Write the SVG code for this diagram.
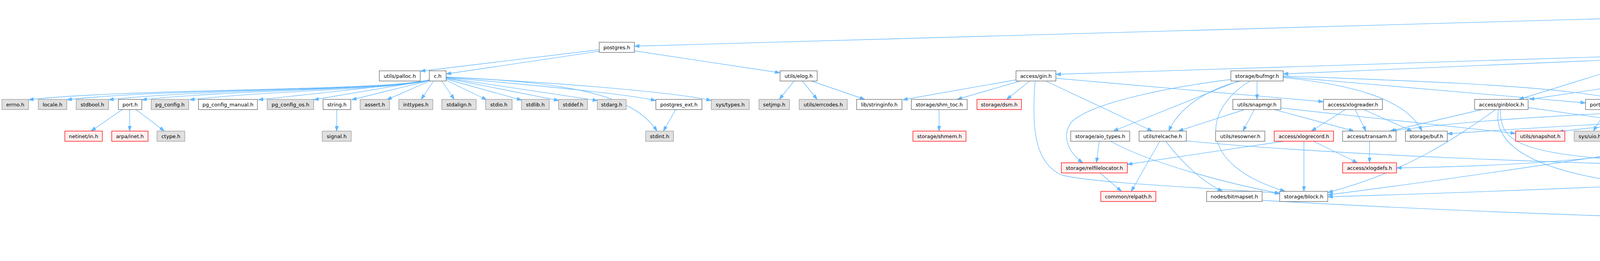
<svg xmlns="http://www.w3.org/2000/svg" width="6037" height="667" viewBox="0 0 6037 667">
<style>
.node rect{stroke-width:1.33}
.n rect{fill:#ffffff;stroke:#666666}
.s rect{fill:#e0e0e0;stroke:#999999}
.r rect{fill:#fff0f0;stroke:#ff0000}
.src rect{fill:#999999;stroke:#666666}
.node text{font-family:"DejaVu Sans","Liberation Sans",sans-serif;font-size:13px;fill:#000000;text-anchor:middle}
#edges path{fill:none;stroke:#63b8ff;stroke-width:1.33;marker-end:url(#arr)}
</style>
<defs>
<marker id="arr" viewBox="0 0 13 9" refX="13" refY="4.5" markerWidth="13" markerHeight="9" markerUnits="userSpaceOnUse" orient="auto">
<path d="M0,0 L13,4.5 L0,9 z" fill="#63b8ff" stroke="#63b8ff" stroke-width="1"/>
</marker>
</defs>
<rect width="6037" height="667" fill="#ffffff"/>
<g id="edges">
<path d="M4523,36 L1624,118"/>
<path d="M4666,60 L4775,108"/>
<path d="M4603,60 L4603,254"/>
<path d="M4523,58 L3888,254"/>
<path d="M4682,34 C5400,55 5900,110 6000,150 C6040,170 6032,210 6030,250 C6027,320 6010,380 6005,416"/>
<path d="M1534,127 L1076,182"/>
<path d="M1534,131 L1142,189"/>
<path d="M1624,130 L1997,186"/>
<path d="M1099,204 C1000,232 323,226 73,255"/>
<path d="M1099,204 C1000,232 420,226 171,255"/>
<path d="M1099,204 C1000,232 528,226 278,255"/>
<path d="M1099,205 C1000,230 613,228 363,255"/>
<path d="M1099,205 C1000,230 735,228 485,255"/>
<path d="M1099,205 C950,225 800,240 661,255"/>
<path d="M1099,205 L803,255"/>
<path d="M1099,206 L900,255"/>
<path d="M1100,207 L990,255"/>
<path d="M1110,207 L1078,254"/>
<path d="M1131,207 L1163,254"/>
<path d="M1142,205 L1246,255"/>
<path d="M1142,202 L1336,256"/>
<path d="M1142,200 L1431,257"/>
<path d="M1142,199 L1530,257"/>
<path d="M1142,198 C1400,220 1600,240 1679,257"/>
<path d="M1142,197 C1500,215 1750,240 1821,257"/>
<path d="M1142,197 C1450,210 1620,240 1682,335"/>
<path d="M313,280 L233,335"/>
<path d="M332,280 L332,335"/>
<path d="M348,280 L421,335"/>
<path d="M862,280 L862,335"/>
<path d="M1730,280 L1698,335"/>
<path d="M2033,207 L1995,254"/>
<path d="M2054,207 L2092,254"/>
<path d="M2077,207 L2214,254"/>
<path d="M4858,134 L5055,181"/>
<path d="M4886,127 L5196,184"/>
<path d="M4886,124 L5335,185"/>
<path d="M4886,121 L5503,185"/>
<path d="M4886,119 C5300,150 5700,180 5820,188 C5900,200 5960,250 5985,320 C5995,360 5999,390 5999,416"/>
<path d="M4731,125 L2703,190"/>
<path d="M4731,127 L3285,189"/>
<path d="M4731,133 L3915,254"/>
<path d="M4791,134 L4622,254"/>
<path d="M4809,134 L4809,254"/>
<path d="M2601,204 L2311,255"/>
<path d="M2612,207 L2450,254"/>
<path d="M2636,207 L2577,254"/>
<path d="M2677,207 L2950,335"/>
<path d="M2703,200 L3388,260"/>
<path d="M2650,207 C2640,330 2650,420 2720,448 C2820,470 3100,480 3276,494"/>
<path d="M2404,280 L2404,335"/>
<path d="M3151,203 C3000,222 2800,260 2745,310 C2715,345 2735,390 2772,416"/>
<path d="M3170,207 L2850,335"/>
<path d="M3176,207 C3100,225 3020,270 2992,335"/>
<path d="M3200,207 C3080,280 3060,420 3290,489"/>
<path d="M3218,207 L3218,254"/>
<path d="M3285,196 L4059,263"/>
<path d="M3285,194 C3900,218 4200,225 4377,335"/>
<path d="M3285,198 C3450,215 3600,250 3640,335"/>
<path d="M3186,280 L3016,335"/>
<path d="M3211,280 L3182,335"/>
<path d="M3262,280 L3466,335"/>
<path d="M3279,276 L3880,341"/>
<path d="M3444,280 L3357,335"/>
<path d="M3469,280 L3497,335"/>
<path d="M3491,280 L3615,335"/>
<path d="M3287,361 L2886,420"/>
<path d="M3338,361 L3338,489"/>
<path d="M3363,361 L3475,416"/>
<path d="M3506,361 L3506,416"/>
<path d="M2814,361 L2807,416"/>
<path d="M2843,361 C2950,420 3150,470 3278,495"/>
<path d="M2969,361 L2896,489"/>
<path d="M2984,361 C3030,420 3080,465 3130,489"/>
<path d="M3037,360 C3400,395 4000,418 4507,428"/>
<path d="M2816,442 L2871,489"/>
<path d="M3231,512 C3800,545 4500,568 5075,575"/>
<path d="M3794,280 L3558,335"/>
<path d="M3829,280 C3730,350 3600,440 3399,492"/>
<path d="M3841,280 C3840,350 3870,385 4100,405 C4500,412 4700,415 4842,420"/>
<path d="M3836,280 C3822,360 3900,430 4150,465 C4250,478 4300,490 4346,497"/>
<path d="M3912,275 L4339,335"/>
<path d="M4113,280 L4079,335"/>
<path d="M4128,280 L4162,335"/>
<path d="M4144,280 L4244,335"/>
<path d="M4522,272 C4200,285 3800,300 3562,335"/>
<path d="M4573,280 L4437,335"/>
<path d="M4592,280 L4546,335"/>
<path d="M4601,280 L4577,416"/>
<path d="M4619,280 L4691,335"/>
<path d="M4647,280 L4865,337"/>
<path d="M4754,278 L4456,335"/>
<path d="M4793,280 L4730,335"/>
<path d="M4811,280 C4812,340 4800,380 4641,418"/>
<path d="M4862,272 C4960,285 5000,330 4980,370 C4970,395 4955,405 4942,416"/>
<path d="M4910,361 L4910,416"/>
<path d="M4714,361 L4737,416"/>
<path d="M4398,361 L4398,489"/>
<path d="M4353,361 C4200,400 3900,425 3575,429"/>
<path d="M4350,361 C4100,400 3700,460 3399,498"/>
<path d="M4842,440 C4500,460 4000,485 3399,503"/>
<path d="M4842,441 C4700,460 4550,480 4450,497"/>
<path d="M4641,440 L5073,496"/>
<path d="M5110,207 L5110,254"/>
<path d="M5137,207 L5240,254"/>
<path d="M5173,206 C5500,270 5700,330 5690,400 C5680,470 5500,500 5192,501"/>
<path d="M5173,205 C5500,210 5700,220 5750,300 C5770,350 5780,380 5797,416"/>
<path d="M5173,207 C5600,220 5750,250 5850,275 C5930,295 5931,320 5931,350 L5931,430 C5931,500 5500,545 5190,570"/>
<path d="M5047,272 C4600,290 4000,320 3705,342"/>
<path d="M5047,273 C4600,295 4150,312 3990,337"/>
<path d="M5080,280 L4942,335"/>
<path d="M5111,280 L5111,335"/>
<path d="M5133,280 L5235,335"/>
<path d="M5156,280 L5336,328"/>
<path d="M5175,278 L5530,335"/>
<path d="M5175,276 L5781,341"/>
<path d="M5081,361 L4945,416"/>
<path d="M5833,361 L5816,416"/>
<path d="M5860,361 L5977,416"/>
<path d="M5132,515 L5132,562"/>
<path d="M5132,588 L5132,635"/>
</g>
<g id="n_source" class="node src"><rect x="4523" y="5" width="159" height="55"/><text x="4603" y="21">src/test/modules/test</text><text x="4603" y="36">_ginpostinglist/test</text><text x="4603" y="51">_ginpostinglist.c</text></g>
<g id="n_postgres" class="node n"><rect x="1534" y="108" width="90" height="26"/><text x="1579" y="125.5">postgres.h</text></g>
<g id="n_gin_private" class="node n"><rect x="4731" y="108" width="155" height="26"/><text x="4808.5" y="125.5">access/gin_private.h</text></g>
<g id="n_palloc" class="node n"><rect x="971" y="181" width="105" height="26"/><text x="1023.5" y="198.5">utils/palloc.h</text></g>
<g id="n_c" class="node n"><rect x="1099" y="181" width="43" height="26"/><text x="1120.5" y="198.5">c.h</text></g>
<g id="n_elog" class="node n"><rect x="1997" y="181" width="95" height="26"/><text x="2044.5" y="198.5">utils/elog.h</text></g>
<g id="n_gin" class="node n"><rect x="2601" y="181" width="102" height="26"/><text x="2652" y="198.5">access/gin.h</text></g>
<g id="n_bufmgr" class="node n"><rect x="3151" y="181" width="134" height="26"/><text x="3218" y="198.5">storage/bufmgr.h</text></g>
<g id="n_amapi" class="node n"><rect x="5049" y="181" width="124" height="26"/><text x="5111" y="198.5">access/amapi.h</text></g>
<g id="n_int" class="node n"><rect x="5196" y="181" width="112" height="26"/><text x="5252" y="198.5">common/int.h</text></g>
<g id="n_pg_am_d" class="node s"><rect x="5333" y="181" width="145" height="26"/><text x="5405.5" y="198.5">catalog/pg_am_d.h</text></g>
<g id="n_rbtree" class="node n"><rect x="5503" y="181" width="94" height="26"/><text x="5550" y="198.5">lib/rbtree.h</text></g>
<g id="n_errno" class="node s"><rect x="5" y="254" width="68" height="26"/><text x="39" y="271.5">errno.h</text></g>
<g id="n_locale" class="node s"><rect x="98" y="254" width="73" height="26"/><text x="134.5" y="271.5">locale.h</text></g>
<g id="n_stdbool" class="node s"><rect x="195" y="254" width="83" height="26"/><text x="236.5" y="271.5">stdbool.h</text></g>
<g id="n_port" class="node n"><rect x="303" y="254" width="60" height="26"/><text x="333" y="271.5">port.h</text></g>
<g id="n_pg_config" class="node s"><rect x="387" y="254" width="96" height="26"/><text x="435" y="271.5">pg_config.h</text></g>
<g id="n_pg_config_manual" class="node n"><rect x="508" y="254" width="151" height="26"/><text x="583.5" y="271.5">pg_config_manual.h</text></g>
<g id="n_pg_config_os" class="node s"><rect x="684" y="254" width="119" height="26"/><text x="743.5" y="271.5">pg_config_os.h</text></g>
<g id="n_string" class="node n"><rect x="827" y="254" width="71" height="26"/><text x="862.5" y="271.5">string.h</text></g>
<g id="n_assert" class="node s"><rect x="922" y="254" width="75" height="26"/><text x="959.5" y="271.5">assert.h</text></g>
<g id="n_inttypes" class="node s"><rect x="1021" y="254" width="87" height="26"/><text x="1064.5" y="271.5">inttypes.h</text></g>
<g id="n_stdalign" class="node s"><rect x="1131" y="254" width="88" height="26"/><text x="1175" y="271.5">stdalign.h</text></g>
<g id="n_stdio" class="node s"><rect x="1243" y="254" width="68" height="26"/><text x="1277" y="271.5">stdio.h</text></g>
<g id="n_stdlib" class="node s"><rect x="1335" y="254" width="71" height="26"/><text x="1370.5" y="271.5">stdlib.h</text></g>
<g id="n_stddef" class="node s"><rect x="1430" y="254" width="74" height="26"/><text x="1467" y="271.5">stddef.h</text></g>
<g id="n_stdarg" class="node s"><rect x="1529" y="254" width="74" height="26"/><text x="1566" y="271.5">stdarg.h</text></g>
<g id="n_postgres_ext" class="node n"><rect x="1679" y="254" width="118" height="26"/><text x="1738" y="271.5">postgres_ext.h</text></g>
<g id="n_sys_types" class="node s"><rect x="1821" y="254" width="97" height="26"/><text x="1869.5" y="271.5">sys/types.h</text></g>
<g id="n_setjmp" class="node s"><rect x="1943" y="254" width="78" height="26"/><text x="1982" y="271.5">setjmp.h</text></g>
<g id="n_errcodes" class="node s"><rect x="2046" y="254" width="123" height="26"/><text x="2107.5" y="271.5">utils/errcodes.h</text></g>
<g id="n_stringinfo" class="node n"><rect x="2193" y="254" width="116" height="26"/><text x="2251" y="271.5">lib/stringinfo.h</text></g>
<g id="n_shm_toc" class="node n"><rect x="2333" y="254" width="143" height="26"/><text x="2404.5" y="271.5">storage/shm_toc.h</text></g>
<g id="n_dsm" class="node r"><rect x="2501" y="254" width="114" height="26"/><text x="2558" y="271.5">storage/dsm.h</text></g>
<g id="n_snapmgr" class="node n"><rect x="3156" y="254" width="123" height="26"/><text x="3217.5" y="271.5">utils/snapmgr.h</text></g>
<g id="n_xlogreader" class="node n"><rect x="3388" y="254" width="151" height="26"/><text x="3463.5" y="271.5">access/xlogreader.h</text></g>
<g id="n_ginblock" class="node n"><rect x="3775" y="254" width="137" height="26"/><text x="3843.5" y="271.5">access/ginblock.h</text></g>
<g id="n_pg_iovec" class="node n"><rect x="4059" y="254" width="123" height="26"/><text x="4120.5" y="271.5">port/pg_iovec.h</text></g>
<g id="n_htup_details" class="node n"><rect x="4522" y="254" width="163" height="26"/><text x="4603.5" y="271.5">access/htup_details.h</text></g>
<g id="n_itup" class="node n"><rect x="4755" y="254" width="107" height="26"/><text x="4808.5" y="271.5">access/itup.h</text></g>
<g id="n_genam" class="node n"><rect x="5047" y="254" width="128" height="26"/><text x="5111" y="271.5">access/genam.h</text></g>
<g id="n_cmptype" class="node n"><rect x="5199" y="254" width="139" height="26"/><text x="5268.5" y="271.5">access/cmptype.h</text></g>
<g id="n_netinet" class="node r"><rect x="166" y="335" width="96" height="26"/><text x="214" y="352.5">netinet/in.h</text></g>
<g id="n_arpa" class="node r"><rect x="286" y="335" width="93" height="26"/><text x="332.5" y="352.5">arpa/inet.h</text></g>
<g id="n_ctype" class="node s"><rect x="402" y="335" width="71" height="26"/><text x="437.5" y="352.5">ctype.h</text></g>
<g id="n_signal" class="node s"><rect x="825" y="335" width="74" height="26"/><text x="862" y="352.5">signal.h</text></g>
<g id="n_stdint" class="node s"><rect x="1653" y="335" width="71" height="26"/><text x="1688.5" y="352.5">stdint.h</text></g>
<g id="n_shmem" class="node r"><rect x="2337" y="335" width="136" height="26"/><text x="2405" y="352.5">storage/shmem.h</text></g>
<g id="n_aio_types" class="node n"><rect x="2741" y="335" width="151" height="26"/><text x="2816.5" y="352.5">storage/aio_types.h</text></g>
<g id="n_relcache" class="node n"><rect x="2916" y="335" width="121" height="26"/><text x="2976.5" y="352.5">utils/relcache.h</text></g>
<g id="n_resowner" class="node n"><rect x="3112" y="335" width="126" height="26"/><text x="3175" y="352.5">utils/resowner.h</text></g>
<g id="n_xlogrecord" class="node r"><rect x="3262" y="335" width="152" height="26"/><text x="3338" y="352.5">access/xlogrecord.h</text></g>
<g id="n_transam" class="node n"><rect x="3437" y="335" width="137" height="26"/><text x="3505.5" y="352.5">access/transam.h</text></g>
<g id="n_buf" class="node n"><rect x="3598" y="335" width="107" height="26"/><text x="3651.5" y="352.5">storage/buf.h</text></g>
<g id="n_snapshot" class="node r"><rect x="3880" y="335" width="126" height="26"/><text x="3943" y="352.5">utils/snapshot.h</text></g>
<g id="n_sys_uio" class="node s"><rect x="4030" y="335" width="80" height="26"/><text x="4070" y="352.5">sys/uio.h</text></g>
<g id="n_unistd" class="node n"><rect x="4133" y="335" width="76" height="26"/><text x="4171" y="352.5">unistd.h</text></g>
<g id="n_limits" class="node s"><rect x="4233" y="335" width="72" height="26"/><text x="4269" y="352.5">limits.h</text></g>
<g id="n_bufpage" class="node n"><rect x="4327" y="335" width="141" height="26"/><text x="4397.5" y="352.5">storage/bufpage.h</text></g>
<g id="n_varatt" class="node n"><rect x="4492" y="335" width="73" height="26"/><text x="4528.5" y="352.5">varatt.h</text></g>
<g id="n_tupmacs" class="node n"><rect x="4640" y="335" width="139" height="26"/><text x="4709.5" y="352.5">access/tupmacs.h</text></g>
<g id="n_htup" class="node n"><rect x="4854" y="335" width="111" height="26"/><text x="4909.5" y="352.5">access/htup.h</text></g>
<g id="n_tidbitmap" class="node r"><rect x="5041" y="335" width="140" height="26"/><text x="5111" y="352.5">nodes/tidbitmap.h</text></g>
<g id="n_sdir" class="node n"><rect x="5205" y="335" width="106" height="26"/><text x="5258" y="352.5">access/sdir.h</text></g>
<g id="n_instrument" class="node n"><rect x="5334" y="328" width="153" height="40"/><text x="5410.5" y="344">executor/instrument</text><text x="5410.5" y="359">_node.h</text></g>
<g id="n_lockdefs" class="node n"><rect x="5512" y="335" width="143" height="26"/><text x="5583.5" y="352.5">storage/lockdefs.h</text></g>
<g id="n_skey" class="node r"><rect x="5781" y="335" width="111" height="26"/><text x="5836.5" y="352.5">access/skey.h</text></g>
<g id="n_relfilelocator" class="node r"><rect x="2717" y="416" width="169" height="26"/><text x="2801.5" y="433.5">storage/relfilelocator.h</text></g>
<g id="n_xlogdefs" class="node r"><rect x="3437" y="416" width="138" height="26"/><text x="3506" y="433.5">access/xlogdefs.h</text></g>
<g id="n_tupdesc" class="node r"><rect x="4507" y="416" width="134" height="26"/><text x="4574" y="433.5">access/tupdesc.h</text></g>
<g id="n_pg_type_d" class="node s"><rect x="4665" y="416" width="153" height="26"/><text x="4741.5" y="433.5">catalog/pg_type_d.h</text></g>
<g id="n_itemptr" class="node n"><rect x="4842" y="416" width="135" height="26"/><text x="4909.5" y="433.5">storage/itemptr.h</text></g>
<g id="n_stratnum" class="node n"><rect x="5740" y="416" width="142" height="26"/><text x="5811" y="433.5">access/stratnum.h</text></g>
<g id="n_fmgr" class="node n"><rect x="5967" y="416" width="64" height="26"/><text x="5999" y="433.5">fmgr.h</text></g>
<g id="n_relpath" class="node r"><rect x="2818" y="489" width="141" height="26"/><text x="2888.5" y="506.5">common/relpath.h</text></g>
<g id="n_bitmapset" class="node n"><rect x="3089" y="489" width="142" height="26"/><text x="3160" y="506.5">nodes/bitmapset.h</text></g>
<g id="n_block" class="node n"><rect x="3276" y="489" width="123" height="26"/><text x="3337.5" y="506.5">storage/block.h</text></g>
<g id="n_off" class="node r"><rect x="4346" y="489" width="104" height="26"/><text x="4398" y="506.5">storage/off.h</text></g>
<g id="n_pg_list" class="node n"><rect x="5073" y="489" width="119" height="26"/><text x="5132.5" y="506.5">nodes/pg_list.h</text></g>
<g id="n_nodes" class="node n"><rect x="5075" y="562" width="115" height="26"/><text x="5132.5" y="579.5">nodes/nodes.h</text></g>
<g id="n_nodetags" class="node s"><rect x="5063" y="635" width="137" height="26"/><text x="5131.5" y="652.5">nodes/nodetags.h</text></g>
</svg>
